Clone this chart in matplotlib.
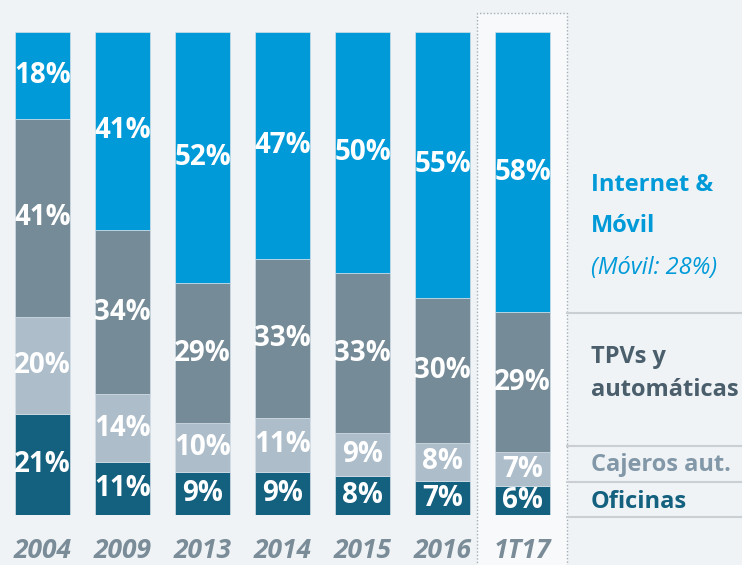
import matplotlib
matplotlib.use("Agg")
import matplotlib.pyplot as plt
from matplotlib.patches import Rectangle
import numpy as np

years = ["2004", "2009", "2013", "2014", "2015", "2016", "1T17"]
oficinas = [21, 11, 9, 9, 8, 7, 6]
cajeros = [20, 14, 10, 11, 9, 8, 7]
tpvs = [41, 34, 29, 33, 33, 30, 29]
internet = [18, 41, 52, 47, 50, 55, 58]

series = [oficinas, cajeros, tpvs, internet]
colors = ["#13607f", "#adbdca", "#758b97", "#009ad8"]

plt.rcParams['font.family'] = ['Open Sans', 'DejaVu Sans']
bg = "#eff3f5"
fig = plt.figure(figsize=(7.42, 5.65), dpi=100, facecolor=bg)
ax = fig.add_axes([0, 0.0885, 1, 0.8549])
ax.set_facecolor(bg)
ax.set_xlim(-0.53125, 8.74375)
ax.set_ylim(0, 100)
ax.axis("off")

x = np.arange(len(years))
# highlight box for the last period
ax.add_patch(Rectangle((5.431, -12), 1.125, 115.9, facecolor="#f7f9fb",
                       edgecolor="#a6adb3", linestyle=(0, (1, 1.5)), lw=1.0,
                       clip_on=False, zorder=0))

bottom = np.zeros(len(years))
for vals, c in zip(series, colors):
    vals = np.array(vals, dtype=float)
    ax.bar(x, vals, bottom=bottom, width=0.6875, color=c,
           edgecolor="#d3dfe8", linewidth=0.5, zorder=2)
    for xi, b, v in zip(x, bottom, vals):
        ax.text(xi, b + v / 2, f"{int(v)}%", ha="center", va="center",
                color="white", fontsize=20, fontweight="bold", zorder=3)
    bottom += vals

for xi, yr in zip(x, years):
    ax.text(xi, -7.4, yr, ha="center", va="center", color="#7a8c98",
            fontsize=19, fontweight="bold", style="italic", clip_on=False)

# right-hand legend
sep_y = [41.8, 14.3, 6.8, -0.4]
for sy in sep_y:
    ax.plot([6.556, 8.75], [sy, sy], color="#c9cfd3", lw=1.5, clip_on=False, zorder=1)

lx = 6.856
fs = 17
ax.text(lx, 68.3, "Internet &", color="#009ad8", fontsize=fs, fontweight="bold", va="center")
ax.text(lx, 59.8, "Móvil", color="#009ad8", fontsize=fs, fontweight="bold", va="center")
ax.text(lx, 51.1, "(Móvil: 28%)", color="#009ad8", fontsize=fs, style="italic", va="center")
ax.text(lx, 32.7, "TPVs y", color="#4a5e6c", fontsize=fs, fontweight="bold", va="center")
ax.text(lx, 25.9, "automáticas", color="#4a5e6c", fontsize=fs, fontweight="bold", va="center")
ax.text(lx, 10.4, "Cajeros aut.", color="#8298a8", fontsize=fs, fontweight="bold", va="center")
ax.text(lx, 2.7, "Oficinas", color="#13607f", fontsize=fs, fontweight="bold", va="center")

fig.savefig("out.png", dpi=100, facecolor=bg)
